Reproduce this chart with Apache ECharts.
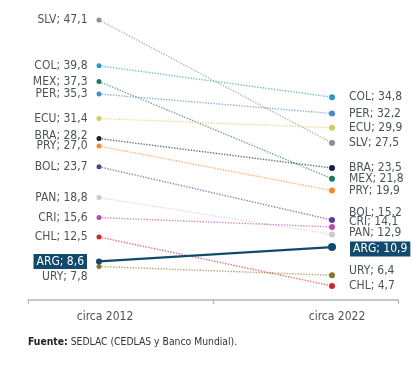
<!DOCTYPE html>
<html>
<head>
<meta charset="utf-8">
<script src="https://cdn.jsdelivr.net/npm/echarts@6/dist/echarts.min.js"></script>
<style>
html,body{margin:0;padding:0;background:#fff;}
#chart{width:420px;height:368px;}
</style>
</head>
<body>
<div id="chart"></div>
<script>
// ---- data ----
const countries = ['SLV','COL','MEX','PER','ECU','BRA','PRY','BOL','PAN','CRI','CHL','ARG','URY'];
const v2012 = [47.1,39.8,37.3,35.3,31.4,28.2,27.0,23.7,18.8,15.6,12.5,8.6,7.8];
const v2022 = [27.5,34.8,21.8,32.2,29.9,23.5,19.9,15.2,12.9,14.1,4.7,10.9,6.4];
const periods = ['circa 2012','circa 2022'];
const sourceText = 'SEDLAC (CEDLAS y Banco Mundial).';

// ---- styles ----
const colors = {
  SLV:'#8e8e8e', COL:'#2a9bbf', MEX:'#1f7a58', PER:'#4d87cc', ECU:'#d3cc5c',
  BRA:'#1b1f3b', PRY:'#f28b30', BOL:'#5a3b98', PAN:'#c9c9c9', CRI:'#b14fb2',
  CHL:'#d3262b', ARG:'#114a6c', URY:'#8a7628'
};
const leftOffset = { BRA:-3, URY:10 };
const rightOffset = { BOL:-7, CRI:-5, PAN:-2, ARG:2, URY:-4 };
const FONT = "'Liberation Sans Narrow','DejaVu Sans Condensed','Liberation Sans',sans-serif";

function fmt(c, v){ return c + '; ' + v.toFixed(1).replace('.', ','); }

function labelFor(c, v, side){
  const isArg = c === 'ARG';
  const lab = {
    show:true,
    position: side,
    distance: side === 'left' ? 9 : 14,
    offset:[0, (side === 'left' ? leftOffset[c] : rightOffset[c]) || 0],
    formatter: () => fmt(c, v),
    fontFamily: FONT,
    fontSize: 12,
    color: isArg ? '#ffffff' : '#4d5259'
  };
  if (isArg) {
    lab.backgroundColor = '#124a6d';
    lab.padding = [2,3,1,3];
  }
  return lab;
}

const series = countries.map((c, i) => {
  const isArg = c === 'ARG';
  return {
    type:'line',
    xAxisIndex:0, yAxisIndex:0,
    silent:true,
    z: isArg ? 10 : 2,
    data:[
      { value:[0, v2012[i]], symbol:'circle', symbolSize: isArg ? 6 : 5, label: labelFor(c, v2012[i], 'left') },
      { value:[1, v2022[i]], symbol:'circle', symbolSize: isArg ? 8 : 6, label: labelFor(c, v2022[i], 'right') }
    ],
    itemStyle:{ color: colors[c] },
    lineStyle: isArg
      ? { color: colors[c], width:2.2, type:'solid' }
      : { color: colors[c], width:1.4, type:'dotted', opacity:0.65 },
    animation:false
  };
});

const chart = echarts.init(document.getElementById('chart'), null, {renderer:'canvas'});
chart.setOption({
  backgroundColor:'#ffffff',
  animation:false,
  title:{
    left:28, top:337, padding:0,
    text:'{b|Fuente:} ' + sourceText,
    textStyle:{
      fontFamily: FONT, fontSize:10.3, fontWeight:'normal', color:'#333',
      rich:{ b:{ fontFamily: FONT, fontSize:10.3, fontWeight:'bold', color:'#222' } }
    }
  },
  grid:[
    { left:99, right:88, top:1.8, bottom:52.6 },
    { left:28, right:22, top:1.8, bottom:68 }
  ],
  xAxis:[
    { gridIndex:0, type:'value', min:0, max:1, show:false },
    { gridIndex:1, type:'category', data:periods, boundaryGap:true,
      axisLine:{ show:true, lineStyle:{ color:'#b5b5b5', width:1.5 } },
      axisTick:{ show:true, length:4, lineStyle:{ color:'#b5b5b5', width:1.2 } },
      axisLabel:{
        margin:11,
        formatter:(v, idx) => idx === 0 ? '{a|' + v + '}' : '{b|' + v + '}',
        rich:{
          a:{ fontFamily:FONT, fontSize:12, color:'#4d5259', padding:[0,31,0,0] },
          b:{ fontFamily:FONT, fontSize:12, color:'#4d5259', padding:[0,0,0,63] }
        }
      },
      splitLine:{ show:false }
    }
  ],
  yAxis:[
    { gridIndex:0, type:'value', min:0, max:50, show:false },
    { gridIndex:1, type:'value', min:0, max:1, show:false }
  ],
  series: series
});
</script>
</body>
</html>
